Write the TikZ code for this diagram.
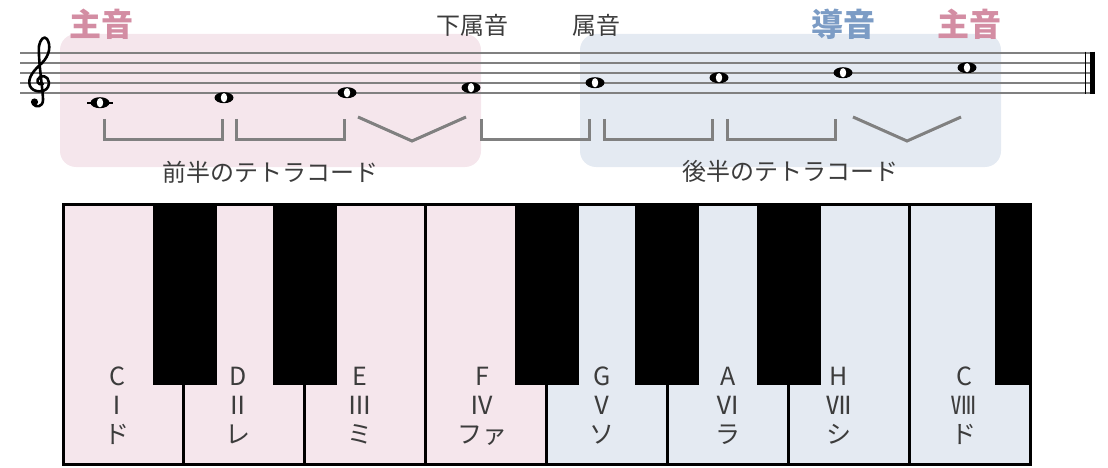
\documentclass[tikz,border=0pt]{standalone}
\usepackage{fontspec}
\setmainfont{Noto Sans CJK JP}
\usetikzlibrary{shapes,positioning}

\definecolor{PinkBg}{RGB}{245,230,236}
\definecolor{BlueBg}{RGB}{228,234,242}
\definecolor{PinkText}{RGB}{211,141,163}
\definecolor{BlueText}{RGB}{124,156,197}
\definecolor{InkGray}{RGB}{60,60,60}
\definecolor{LineGray}{RGB}{128,128,128}

\begin{document}
\begin{tikzpicture}[x=1pt,y=-1pt]
			\tikzstyle{Area}	= [rounded corners=16pt]
			\tikzstyle{Staff}	= [LineGray, line width=2pt]
			\tikzstyle{Step}	= [LineGray, line width=3pt]
			\tikzstyle{Clef}	= [line width=2.6pt, line cap=round, line join=round]
			\tikzstyle{Note}	= [ellipse, fill=black, minimum width=19pt, minimum height=11pt, inner sep=0pt, path picture={\fill[white, shift={(path picture bounding box.center)}, rotate=35] (0,0) ellipse (3.2pt and 4.6pt);}]
			\tikzstyle{Degree}	= [InkGray, font=\fontsize{24}{28}\selectfont]
			\tikzstyle{Tonic}	= [PinkText, font=\fontsize{32}{36}\selectfont\bfseries]
			\tikzstyle{Leading}	= [BlueText, font=\fontsize{32}{36}\selectfont\bfseries]
			\tikzstyle{Half}	= [InkGray, font=\fontsize{24}{28}\selectfont]
			\tikzstyle{WhiteKey}	= [draw=black, line width=3pt, minimum width=120.875pt, minimum height=260pt, inner sep=0pt]
			\tikzstyle{BlackKey}	= [fill=black, anchor=north west, minimum width=64pt, minimum height=181pt, inner sep=0pt]
			\tikzstyle{KeyLabel}	= [InkGray, align=center, font=\fontsize{25}{29}\selectfont]

			\useasboundingbox (0,0) rectangle (1108,468);

			\fill[PinkBg, Area] (60,34) rectangle (481,167);
			\fill[BlueBg, Area] (580,34) rectangle (1001,167);

			\foreach \y in {52.7, 62.7, 72.7, 82.7, 92.7}
				\draw (20,\y) -- (1092,\y) [Staff];
			\draw (1085.5,51.7) -- (1085.5,93.7) [line width=1.5pt];
			\draw (1092,51.7) -- (1092,93.7) [line width=5pt];

			\draw[Clef] (43,84) .. controls (38,86) and (35,80) .. (40,77)
				.. controls (46,74) and (51,80) .. (48,87)
				.. controls (45,93) and (33,93) .. (30,86)
				.. controls (27,78) and (34,70) .. (42,63)
				.. controls (50,55) and (51,45) .. (47,39)
				.. controls (44,35) and (40,40) .. (39,46)
				.. controls (38,60) and (43,90) .. (43,100)
				.. controls (43,107) and (36,108) .. (33,104);
			\fill (34.5,102) circle (3.6pt);
			\draw (87,102.7) -- (113,102.7) [line width=2pt];

			\foreach \n/\x/\y in {1/100/102.7, 2/224/97.7, 3/347/92.7, 4/471/87.7, 5/595/82.7, 6/719/77.7, 7/843/72.7, 8/967/67.7}
				\node (n\n) at (\x,\y) [Note] {};

			\foreach \a/\b in {104/222, 236/344, 481/589, 604/712, 727/835}
				\draw (\a,119) -- (\a,140) -- (\b,140) -- (\b,119) [Step];
			\foreach \a/\b in {358/466, 853/961}
				\draw (\a,117) -- ({(\a+\b)/2},141) -- (\b,117) [Step];

			\node (tonic1) at (101,24) [Tonic] {主音};
			\node (sub) at (472,25) [Degree] {下属音};
			\node (dom) at (596,25) [Degree] {属音};
			\node (lead) at (843,24) [Leading] {導音};
			\node (tonic2) at (969,24) [Tonic] {主音};
			\node (lower) at (270,172) [Half] {前半のテトラコード};
			\node (upper) at (790,171) [Half] {後半のテトラコード};

			\foreach \i in {1,...,4}
				\node (w\i) at ({63+120.875*(\i-0.5)},334) [WhiteKey, fill=PinkBg] {};
			\foreach \i in {5,...,8}
				\node (w\i) at ({63+120.875*(\i-0.5)},334) [WhiteKey, fill=BlueBg] {};
			\foreach \k/\x in {1/153, 2/273, 3/515, 4/635, 5/757}
				\node (b\k) at (\x,204) [BlackKey] {};
			\node (b6) at (995,204) [BlackKey, minimum width=35pt] {};
			\draw (63,204) rectangle (1030,464) [line width=3pt];

			\foreach \x/\txt in {117/C\\Ⅰ\\ド, 238/D\\Ⅱ\\レ, 360/E\\Ⅲ\\ミ, 482/F\\Ⅳ\\ファ, 602/G\\Ⅴ\\ソ, 728/A\\Ⅵ\\ラ, 839/H\\Ⅶ\\シ, 964/C\\Ⅷ\\ド}
				\node (l\x) at (\x,406) [KeyLabel] {\txt};
		\end{tikzpicture}
\end{document}
